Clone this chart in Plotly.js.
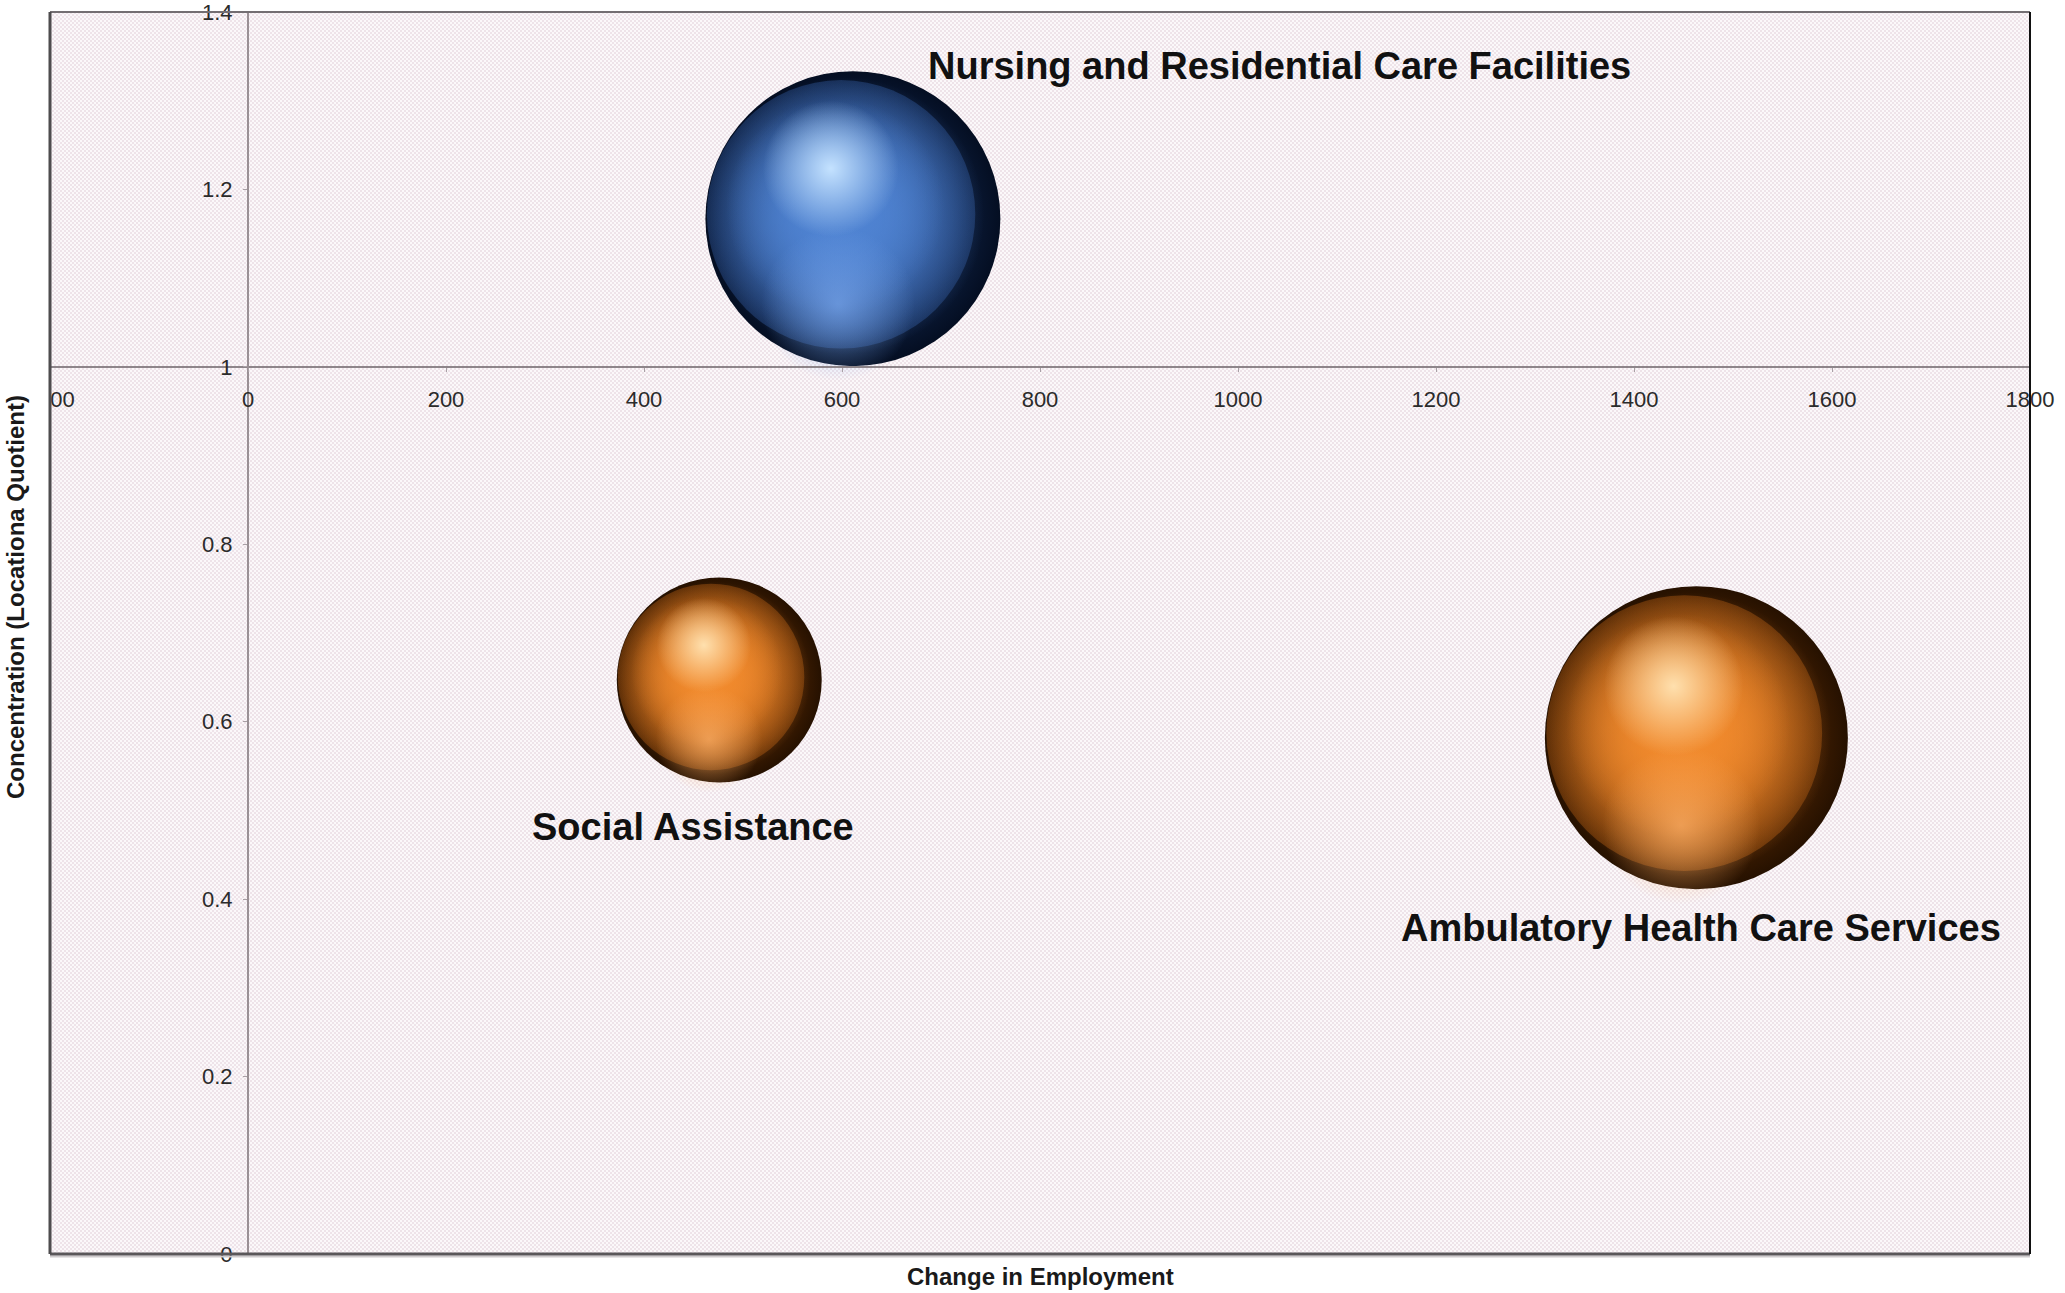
<!DOCTYPE html>
<html>
<head>
<meta charset="utf-8">
<script src="https://cdn.plot.ly/plotly-3.0.1.min.js"></script>
<style>html,body{margin:0;padding:0;background:#fff;}#chart{width:2065px;height:1293px;}</style>
</head>
<body>
<div id="chart"></div>
<script>
// ---- data ----
const industries = ['Nursing and Residential Care Facilities', 'Social Assistance', 'Ambulatory Health Care Services'];
const changeInEmployment = [611, 476, 1463];
const locationQuotient = [1.167, 0.647, 0.582];
const bubbleSize = [4350, 2100, 4590];          // relative bubble values (area)
const xTickVals = [-200, 0, 200, 400, 600, 800, 1000, 1200, 1400, 1600, 1800];
const yTickVals = [0, 0.2, 0.4, 0.6, 0.8, 1, 1.2, 1.4];
const yTickText = ['0', '0.2', '0.4', '0.6', '0.8', '1', '1.2', '1.4'];
const xTitle = 'Change in Employment';
const yTitle = 'Concentration (Locationa Quotient)';

// ---- styling ----
const W = 2065, H = 1293;
const M = {l: 50, r: 35, t: 12, b: 39};
const xRange = [-200, 1800], yRange = [0, 1.4];
const plotW = W - M.l - M.r, plotH = H - M.t - M.b;
const pxPerX = plotW / (xRange[1] - xRange[0]);
const pxPerY = plotH / (yRange[1] - yRange[0]);
const FONT = 'Liberation Sans, Arial, Helvetica, sans-serif';

const blueSphere = {dark: '#040e22', deep: '#22447f', mid: '#4f83d2', edge: 'rgba(60,108,188,0.32)', light: '#c4e2ff', rim: 'rgba(122,168,238,0.7)'};
const orangeSphere = {dark: '#261100', deep: '#94470a', mid: '#f18a2d', edge: 'rgba(214,112,24,0.32)', light: '#ffe0ae', rim: 'rgba(255,178,106,0.7)'};
const sphereColors = [blueSphere, orangeSphere, orangeSphere];

const maxDiam = 303;
const sizeref = 2 * Math.max(...bubbleSize) / (maxDiam * maxDiam);
const diam = bubbleSize.map(v => Math.sqrt(2 * v / sizeref));
const clear = c => {
  if (c[0] === '#') {
    const n = parseInt(c.slice(1), 16);
    return 'rgba(' + ((n >> 16) & 255) + ',' + ((n >> 8) & 255) + ',' + (n & 255) + ',0)';
  }
  return c.replace(/,[^,]*\)$/, ',0)');
};
// shift a bubble point by a fraction of its radius (screen px -> data units)
const shiftX = (f) => changeInEmployment.map((x, i) => x + f * diam[i] / 2 / pxPerX);
const shiftY = (f) => locationQuotient.map((y, i) => y + f * diam[i] / 2 / pxPerY);

// base sphere: dark edge, deep-coloured centre
const traces = [{
  type: 'scatter', mode: 'markers', x: changeInEmployment, y: locationQuotient, text: industries,
  hovertemplate: '%{text}<br>Change: %{x}<br>LQ: %{y}<extra></extra>',
  marker: {size: bubbleSize, sizemode: 'area', sizeref: sizeref, opacity: 1,
    color: sphereColors.map(c => c.dark), line: {width: 0},
    gradient: {type: 'radial', color: sphereColors.map(c => c.deep)}}
}];
// shading layers: [shift x, shift y (fractions of radius), diameter factor, centre colour, edge colour]
const shadeLayers = [
  [-0.08, 0.03, 0.91, 'mid', c => c.edge],
  [-0.05, 0.02, 0.94, 'mid', c => clear(c.mid)],
  [-0.12, 0.08, 0.74, 'mid', c => clear(c.mid)],
  [-0.10, -0.58, 0.52, 'rim', c => clear(c.rim)],
  [-0.15, 0.34, 0.46, 'light', c => clear(c.light)]
];
shadeLayers.forEach(([fx, fy, fs, key, edgeFn]) => {
  traces.push({
    type: 'scatter', mode: 'markers', x: shiftX(fx), y: shiftY(fy), hoverinfo: 'skip',
    marker: {size: diam.map(d => d * fs), sizemode: 'diameter', sizeref: 1, opacity: 1,
      color: sphereColors.map(edgeFn), line: {width: 0},
      gradient: {type: 'radial', color: sphereColors.map(c => c[key])}}
  });
});

// label offsets (px) from each bubble centre
const labelShift = [{x: 427, y: 153}, {x: -26, y: -147}, {x: 5, y: -190}];
const annotations = industries.map((name, i) => ({
  x: changeInEmployment[i], y: locationQuotient[i], xref: 'x', yref: 'y',
  text: name, showarrow: false, xanchor: 'center', yanchor: 'middle',
  xshift: labelShift[i].x, yshift: labelShift[i].y,
  font: {family: FONT, size: 38, color: '#111', weight: 'bold'}
}));
annotations.push({
  x: 0.5, y: -22 / plotH, xref: 'paper', yref: 'paper', text: xTitle, showarrow: false,
  xanchor: 'center', yanchor: 'middle', font: {family: FONT, size: 24, color: '#1a1a1a', weight: 'bold'}
});
annotations.push({
  x: -34 / plotW, y: 0.529, xref: 'paper', yref: 'paper', text: yTitle, showarrow: false,
  textangle: -90, xanchor: 'center', yanchor: 'middle',
  font: {family: FONT, size: 24, color: '#1a1a1a', weight: 'bold'}
});

// dotted pink background
const pat = "<svg xmlns='http://www.w3.org/2000/svg' width='" + plotW + "' height='" + plotH + "'>" +
  "<defs><pattern id='p' width='4' height='4' patternUnits='userSpaceOnUse'>" +
  "<rect width='4' height='4' fill='#fbf8fa'/>" +
  "<circle cx='1' cy='1' r='0.8' fill='#dfc9d5'/><circle cx='3' cy='3' r='0.8' fill='#dfc9d5'/>" +
  "</pattern></defs><rect width='100%' height='100%' fill='url(#p)'/></svg>";

const shapes = [
  // hide the part of the -200 label that falls outside the frame
  {type: 'rect', xref: 'paper', yref: 'paper', x0: -40 / plotW, x1: 0, y0: 0.66, y1: 0.72,
    fillcolor: '#ffffff', line: {width: 0}, layer: 'above'},
  {type: 'line', xref: 'paper', yref: 'paper', x0: 0, x1: 1, y0: 1, y1: 1, line: {color: '#736e72', width: 2}, layer: 'above'},
  {type: 'line', xref: 'paper', yref: 'paper', x0: 0, x1: 1, y0: -2.5 / plotH, y1: -2.5 / plotH, line: {color: '#cfcbcd', width: 2}, layer: 'above'},
  {type: 'line', xref: 'paper', yref: 'paper', x0: 0, x1: 1, y0: 0, y1: 0, line: {color: '#5a575a', width: 3}, layer: 'above'},
  {type: 'line', xref: 'paper', yref: 'paper', x0: 0, x1: 0, y0: 0, y1: 1, line: {color: '#4e4c4e', width: 3}, layer: 'above'},
  {type: 'line', xref: 'paper', yref: 'paper', x0: 1, x1: 1, y0: 0, y1: 1, line: {color: '#111111', width: 2}, layer: 'above'}
];

const layout = {
  width: W, height: H, margin: M,
  paper_bgcolor: '#ffffff', plot_bgcolor: '#f6f0f3',
  showlegend: false,
  font: {family: FONT, color: '#2b2b2b'},
  images: [{source: 'data:image/svg+xml;charset=utf-8,' + encodeURIComponent(pat),
    xref: 'paper', yref: 'paper', x: 0, y: 1, sizex: 1, sizey: 1, sizing: 'stretch',
    xanchor: 'left', yanchor: 'top', layer: 'below'}],
  xaxis: {
    range: xRange, tickvals: xTickVals, anchor: 'free', position: (1 - yRange[0]) / (yRange[1] - yRange[0]),
    showline: true, linecolor: '#8d858a', linewidth: 2, ticks: 'outside', ticklen: 4, tickcolor: '#a8a0a5',
    tickfont: {family: FONT, size: 22, color: '#2b2b2b'}, showgrid: false, zeroline: false,
    ticklabelstandoff: 9, ticklabeloverflow: 'allow'
  },
  yaxis: {
    range: yRange, tickvals: yTickVals, ticktext: yTickText, anchor: 'free',
    position: (0 - xRange[0]) / (xRange[1] - xRange[0]),
    showline: true, linecolor: '#9a9095', linewidth: 2, ticks: 'outside', ticklen: 4, tickcolor: '#a8a0a5',
    tickfont: {family: FONT, size: 22, color: '#2b2b2b'}, showgrid: false, zeroline: false,
    ticklabelstandoff: 6, ticklabeloverflow: 'allow'
  },
  shapes: shapes,
  annotations: annotations
};

Plotly.newPlot('chart', traces, layout, {displayModeBar: false, responsive: false});
</script>
</body>
</html>
